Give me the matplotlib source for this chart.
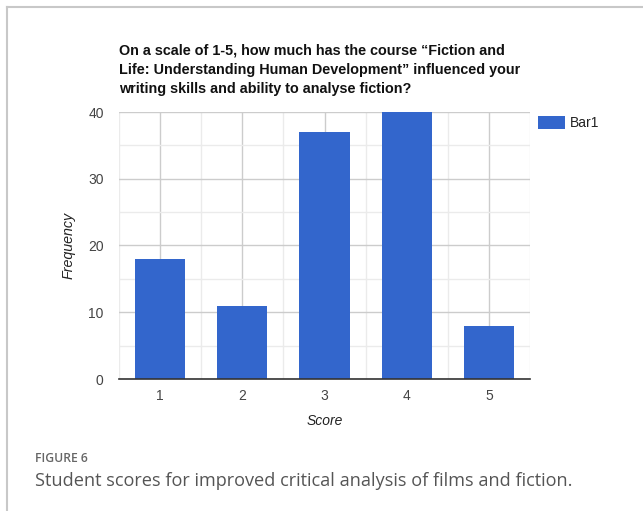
import matplotlib
matplotlib.use("Agg")
import matplotlib.pyplot as plt
from matplotlib.lines import Line2D
from matplotlib.ticker import MultipleLocator

scores = [1, 2, 3, 4, 5]
frequency = [18, 11, 37, 40, 8]
y_ticks = [0, 10, 20, 30, 40]
series_name = "Bar1"
title = ("On a scale of 1-5, how much has the course \u201cFiction and\n"
         "Life: Understanding Human Development\u201d influenced your\n"
         "writing skills and ability to analyse fiction?")

W, H = 643, 511
fig = plt.figure(figsize=(W / 100, H / 100), dpi=100)
fig.patch.set_facecolor("white")

def px(x0, y0, x1, y1):
    return [x0 / W, 1 - y1 / H, (x1 - x0) / W, (y1 - y0) / H]

# outer panel border
fig.add_artist(Line2D([7 / W, 1], [1 - 7 / H, 1 - 7 / H], color="#c8c8c8", lw=1.5))
fig.add_artist(Line2D([7 / W, 7 / W], [0, 1 - 7 / H], color="#c8c8c8", lw=1.5))

ax = fig.add_axes(px(119, 112, 530, 379))
bar_color = "#3366cc"
ax.bar(scores, frequency, width=0.61, color=bar_color, zorder=3, label=series_name)

ax.set_xlim(0.5, 5.5)
ax.set_ylim(0, 40)
ax.set_xticks(scores)
ax.set_yticks(y_ticks)
ax.yaxis.set_minor_locator(MultipleLocator(5))
ax.xaxis.set_minor_locator(MultipleLocator(1, offset=0.5))
ax.grid(which="major", color="#cccccc", lw=1.0, zorder=0)
ax.grid(which="minor", color="#ebebeb", lw=1.0, zorder=0)
for s in ["top", "right", "left"]:
    ax.spines[s].set_visible(False)
ax.spines["bottom"].set_color("#333333")
ax.spines["bottom"].set_linewidth(1.2)
ax.spines["bottom"].set_zorder(4)
ax.tick_params(which="both", length=0)
ax.tick_params(axis="y", pad=11, labelsize=10, labelcolor="#444444")
ax.tick_params(axis="x", pad=7, labelsize=10, labelcolor="#444444")
for lab in ax.get_xticklabels() + ax.get_yticklabels():
    lab.set_fontfamily("Liberation Sans")

ax.set_xlabel("Score", fontstyle="italic", fontsize=10, color="#222222",
              family="Liberation Sans", labelpad=8)
ax.set_ylabel("Frequency", fontstyle="italic", fontsize=10.3, color="#222222",
              family="Liberation Sans", labelpad=9)

fig.text(119 / W, 1 - 43 / H, title, ha="left", va="top", fontsize=10.4,
         fontweight="bold", family="Liberation Sans", color="#111111",
         linespacing=1.52)

leg = ax.legend(loc="upper left", bbox_to_anchor=(0.995, 1.02), frameon=False,
                prop={"family": "Liberation Sans", "size": 10},
                handlelength=2.0, handleheight=1.0, handletextpad=0.35,
                borderaxespad=0.3)
for t in leg.get_texts():
    t.set_color("#222222")

fig.text(35 / W, 1 - 458 / H, "FIGURE 6", ha="left", va="center",
         fontsize=8.7, family="Open Sans", fontweight="semibold", color="#666666")
fig.text(35 / W, 1 - 481 / H,
         "Student scores for improved critical analysis of films and fiction.",
         ha="left", va="center", fontsize=13.1, family="Open Sans",
         color="#555555")

fig.savefig("out.png", dpi=100, facecolor="white")
